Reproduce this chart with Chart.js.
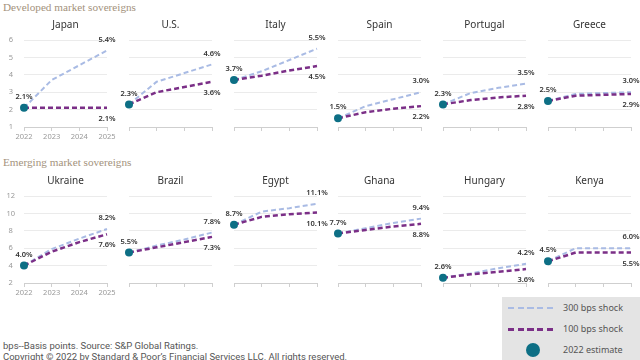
<!DOCTYPE html>
<html>
<head>
<meta charset="utf-8">
<script src="https://cdn.jsdelivr.net/npm/chart.js@4.4.1/dist/chart.umd.min.js"></script>
<style>
  body { margin: 0; width: 640px; height: 360px; overflow: hidden; background: #fff; position: relative; font-family: "Noto Sans", sans-serif; }
  canvas { position: absolute; }
  .sec { position: absolute; left: 3px; font-family: "Liberation Serif", serif; font-size: 11.2px; line-height: 14px; color: #a3927c; white-space: nowrap; }
  #legend { position: absolute; left: 502px; top: 297px; width: 138px; height: 63px; background: #e4e4e4; }
  #legend .row { position: absolute; left: 0; height: 14px; width: 138px; }
  #legend .dash { position: absolute; left: 6px; width: 45px; }
  #legend .dot { position: absolute; left: 24px; top: 0; width: 14px; height: 14px; border-radius: 50%; background: #0d6f85; }
  #legend .txt { position: absolute; left: 61px; top: 0; font-size: 9px; line-height: 14px; color: #555; white-space: nowrap; }
  #foot { position: absolute; left: 3px; top: 340px; font-family: Roboto, sans-serif; font-size: 9.5px; line-height: 11px; color: #555; white-space: nowrap; }
</style>
</head>
<body>
<div class="sec" style="top:0">Developed market sovereigns</div>
<div class="sec" style="top:155px">Emerging market sovereigns</div>

<div id="legend">
  <div class="row" style="top:4px">
    <div class="dash" style="top:6px;height:1.5px;background:repeating-linear-gradient(to right,#a9bbe4 0 6px,transparent 6px 9.75px)"></div>
    <div class="txt">300 bps shock</div>
  </div>
  <div class="row" style="top:25px">
    <div class="dash" style="top:6px;height:2.5px;background:repeating-linear-gradient(to right,#7b2f87 0 6px,transparent 6px 9.75px)"></div>
    <div class="txt">100 bps shock</div>
  </div>
  <div class="row" style="top:46px">
    <div class="dot"></div>
    <div class="txt">2022 estimate</div>
  </div>
</div>

<div id="foot">bps--Basis points. Source: S&amp;P Global Ratings.<br>Copyright © 2022 by Standard &amp; Poor’s Financial Services LLC. All rights reserved.</div>

<script>
'use strict';

const years = ['2022', '2023', '2024', '2025'];

const developed = ['Japan', 'U.S.', 'Italy', 'Spain', 'Portugal', 'Greece'];
const dev300 = [
  [2.1, 3.7, 4.55, 5.4],
  [2.3, 3.6, 4.1, 4.6],
  [3.7, 4.2, 4.85, 5.5],
  [1.5, 2.2, 2.6, 3.0],
  [2.3, 2.95, 3.25, 3.5],
  [2.5, 2.9, 2.95, 3.0],
];
const dev100 = [
  [2.1, 2.1, 2.1, 2.1],
  [2.3, 3.0, 3.3, 3.6],
  [3.7, 3.95, 4.25, 4.5],
  [1.5, 1.85, 2.05, 2.2],
  [2.3, 2.55, 2.7, 2.8],
  [2.5, 2.8, 2.85, 2.9],
];
const devTicks = { min: 1, max: 6, step: 1 };

const emerging = ['Ukraine', 'Brazil', 'Egypt', 'Ghana', 'Hungary', 'Kenya'];
const em300 = [
  [4.0, 5.9, 7.1, 8.2],
  [5.5, 6.3, 7.0, 7.8],
  [8.7, 10.2, 10.6, 11.1],
  [7.7, 8.3, 8.9, 9.4],
  [2.6, 3.1, 3.7, 4.2],
  [4.5, 6.0, 6.0, 6.0],
];
const em100 = [
  [4.0, 5.6, 6.7, 7.6],
  [5.5, 6.1, 6.7, 7.3],
  [8.7, 9.6, 9.9, 10.1],
  [7.7, 8.1, 8.5, 8.8],
  [2.6, 3.0, 3.3, 3.6],
  [4.5, 5.5, 5.5, 5.5],
];
const emTicks = { min: 2, max: 12, step: 2 };

const C300 = '#a9bbe4', C100 = '#7b2f87', CDOT = '#0d6f85';
const FONT = '"Noto Sans", sans-serif';

const fmt = v => v.toFixed(1) + '%';

// panel title + value labels, placed from the dataset points
const panelText = {
  id: 'panelText',
  afterDatasetsDraw(chart, args, opts) {
    const { ctx, chartArea } = chart;
    const hi = chart.getDatasetMeta(0).data, lo = chart.getDatasetMeta(1).data;
    const d0 = chart.data.datasets[0].data, d1 = chart.data.datasets[1].data;
    const last = d0.length - 1;
    ctx.save();
    ctx.textAlign = 'center';
    ctx.textBaseline = 'middle';
    ctx.fillStyle = '#333';
    ctx.font = '10px ' + FONT;
    ctx.fillText(opts.title, (chartArea.left + chartArea.right) / 2, chartArea.top - 15);
    ctx.font = '600 7.5px ' + FONT;
    ctx.fillText(fmt(d0[0]), hi[0].x, hi[0].y - 11);
    ctx.fillText(fmt(d0[last]), hi[last].x, hi[last].y - 11);
    ctx.fillText(fmt(d1[last]), lo[last].x, lo[last].y + 11);
    ctx.restore();
  }
};

function makePanel(name, s300, s100, tk, col, top) {
  const cv = document.createElement('canvas');
  cv.width = 125; cv.height = 133;
  cv.style.left = Math.round(col * 104.8) + 'px';
  cv.style.top = top + 'px';
  cv.style.width = '125px'; cv.style.height = '133px';
  document.body.appendChild(cv);

  new Chart(cv, {
    type: 'line',
    data: {
      labels: years,
      datasets: [{
        data: s300, borderColor: C300, borderWidth: 2, borderDash: [5, 3],
        pointRadius: 0, tension: 0, clip: false, order: 2,
      }, {
        data: s100, borderColor: C100, borderWidth: 2.5, borderDash: [5, 3],
        pointRadius: 0, tension: 0, clip: false, order: 1,
      }, {
        data: years.map((y, i) => i === 0 ? s300[0] : null),
        showLine: false, pointRadius: 4, pointHoverRadius: 4,
        pointBackgroundColor: CDOT, pointBorderWidth: 0, clip: false, order: 0,
      }],
    },
    options: {
      responsive: false,
      animation: false,
      devicePixelRatio: 1,
      layout: { padding: { top: 26, right: 18, left: 0, bottom: 0 } },
      plugins: {
        legend: { display: false },
        tooltip: { enabled: false },
        panelText: { title: name },
      },
      scales: {
        x: {
          offset: false,
          grid: { drawOnChartArea: false, drawTicks: true, tickLength: 4, color: '#cfcfcf' },
          border: { display: true, color: '#cfcfcf' },
          ticks: { display: col === 0, color: '#999', font: { size: 7.5, family: FONT }, padding: 1, maxRotation: 0, autoSkip: false },
          afterFit: s => { s.height = 20; },
        },
        y: {
          min: tk.min, max: tk.max,
          grid: { color: '#ebebeb', drawTicks: false },
          border: { display: false },
          ticks: { display: col === 0, stepSize: tk.step, color: '#999', font: { size: 7.5, family: FONT },
                   crossAlign: 'center', padding: tk.max > 10 ? 9 : 11 },
          afterFit: s => { s.width = 24; },
        },
      },
    },
    plugins: [panelText],
  });
}

developed.forEach((n, i) => makePanel(n, dev300[i], dev100[i], devTicks, i, 14));
emerging.forEach((n, i) => makePanel(n, em300[i], em100[i], emTicks, i, 170));
</script>
</body>
</html>
